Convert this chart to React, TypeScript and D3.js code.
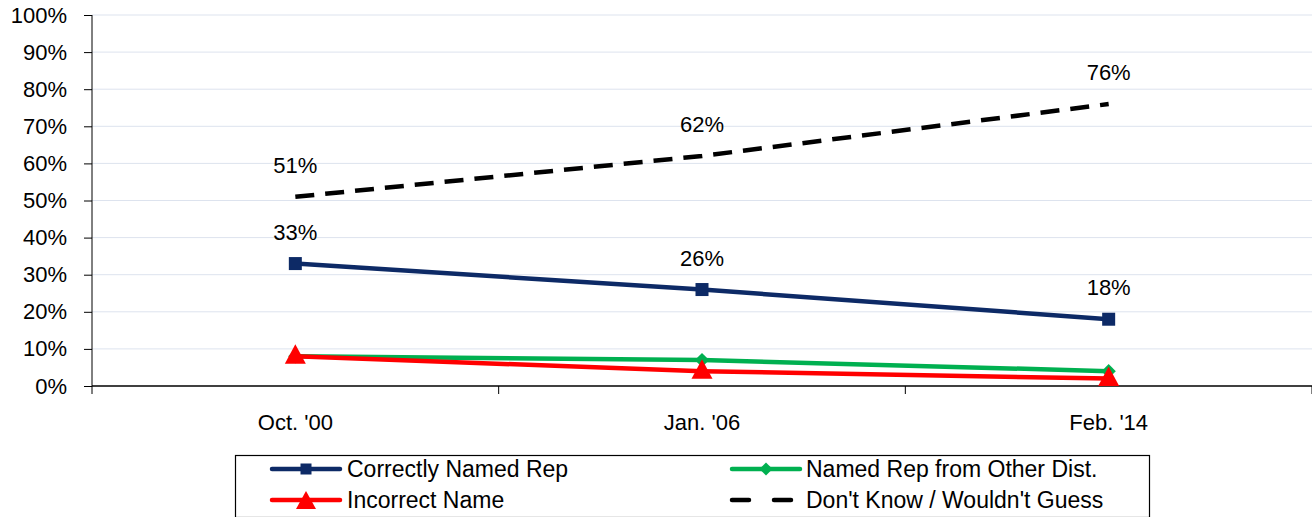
import { useEffect, useRef } from 'react';
import * as d3 from 'd3';

const categories = ["Oct. '00", "Jan. '06", "Feb. '14"];
const correctlyNamed = [33, 26, 18];
const otherDist = [8, 7, 4];
const incorrectName = [8, 4, 2];
const dontKnow = [51, 62, 76];
const yTicks = [0, 10, 20, 30, 40, 50, 60, 70, 80, 90, 100];

const FONT = '"Liberation Sans", Arial, sans-serif';

export default function App() {
  const svgRef = useRef<SVGSVGElement>(null);

  const width = 1312;
  const height = 517;
  const margin = { top: 15, right: 0, bottom: 131, left: 92 };
  const innerWidth = width - margin.left - margin.right;
  const innerHeight = height - margin.top - margin.bottom;

  useEffect(() => {
    if (!svgRef.current) return;
    const svg = d3.select(svgRef.current);
    svg.selectAll('*').remove();

    const x = d3.scaleBand<string>().domain(categories).range([0, innerWidth]);
    const y = d3.scaleLinear().domain([0, 100]).range([innerHeight, 0]);
    const cx = (i: number) => (x(categories[i]) as number) + x.bandwidth() / 2;

    const g = svg.append('g').attr('transform', `translate(${margin.left},${margin.top})`);

    // gridlines
    g.selectAll('.grid')
      .data(yTicks.filter((t) => t > 0))
      .join('line')
      .attr('x1', 0)
      .attr('x2', innerWidth)
      .attr('y1', (d) => y(d))
      .attr('y2', (d) => y(d))
      .attr('stroke', '#dde3ee')
      .attr('stroke-width', 1);

    // y axis
    const yAxis = g.append('g').call(
      d3.axisLeft(y).tickValues(yTicks).tickSize(8).tickFormat((d) => `${d}%`)
    );
    yAxis.select('.domain').attr('stroke', '#000').attr('d', `M0,${innerHeight}V0`);
    yAxis.selectAll('line').attr('stroke', '#000');
    yAxis.selectAll('text')
      .attr('font-family', FONT)
      .attr('font-size', 22)
      .attr('fill', '#000')
      .attr('x', -25);

    // x axis
    const xAxis = g.append('g').attr('transform', `translate(0,${innerHeight})`);
    xAxis.append('line').attr('x1', 0).attr('x2', innerWidth).attr('stroke', '#000').attr('stroke-width', 1.5);
    const bounds = [0, ...categories.map((c) => (x(c) as number) + x.bandwidth())];
    xAxis.selectAll('.xt')
      .data(bounds)
      .join('line')
      .attr('x1', (d) => d)
      .attr('x2', (d) => d)
      .attr('y1', 0)
      .attr('y2', 8)
      .attr('stroke', '#000');
    xAxis.selectAll('.xl')
      .data(categories)
      .join('text')
      .attr('x', (_, i) => cx(i))
      .attr('y', 44)
      .attr('text-anchor', 'middle')
      .attr('font-family', FONT)
      .attr('font-size', 22)
      .text((d) => d);

    const line = d3.line<number>().x((_, i) => cx(i)).y((d) => y(d));

    // series (drawn back to front)
    g.append('path')
      .attr('d', line(dontKnow))
      .attr('fill', 'none')
      .attr('stroke', '#000')
      .attr('stroke-width', 4.5)
      .attr('stroke-dasharray', '19,11');

    g.append('path')
      .attr('d', line(correctlyNamed))
      .attr('fill', 'none')
      .attr('stroke', '#0d2a66')
      .attr('stroke-width', 4.5);
    g.selectAll('.sq')
      .data(correctlyNamed)
      .join('rect')
      .attr('x', (_, i) => cx(i) - 6.5)
      .attr('y', (d) => y(d) - 6.5)
      .attr('width', 13)
      .attr('height', 13)
      .attr('fill', '#0d2a66');

    g.append('path')
      .attr('d', line(otherDist))
      .attr('fill', 'none')
      .attr('stroke', '#00b050')
      .attr('stroke-width', 4.5);
    g.selectAll('.dm')
      .data(otherDist)
      .join('path')
      .attr('d', d3.symbol().type(d3.symbolDiamond2).size(130)())
      .attr('transform', (d, i) => `translate(${cx(i)},${y(d)})`)
      .attr('fill', '#00b050');

    g.append('path')
      .attr('d', line(incorrectName))
      .attr('fill', 'none')
      .attr('stroke', '#ff0000')
      .attr('stroke-width', 4.5);
    g.selectAll('.tr')
      .data(incorrectName)
      .join('path')
      .attr('d', 'M0,-12L10.5,7.5L-10.5,7.5Z')
      .attr('transform', (d, i) => `translate(${cx(i)},${y(d)})`)
      .attr('fill', '#ff0000');

    // data labels
    const labelSeries = [correctlyNamed, dontKnow];
    labelSeries.forEach((series) => {
      g.selectAll(null)
        .data(series)
        .join('text')
        .attr('x', (_, i) => cx(i))
        .attr('y', (d) => y(d) - 24)
        .attr('text-anchor', 'middle')
        .attr('font-family', FONT)
        .attr('font-size', 22)
        .text((d) => `${d}%`);
    });

    // legend
    const lg = svg.append('g');
    lg.append('rect')
      .attr('x', 235.5)
      .attr('y', 455.5)
      .attr('width', 914)
      .attr('height', 62)
      .attr('fill', '#fff')
      .attr('stroke', '#000')
      .attr('stroke-width', 1.2);

    const items = [
      { name: 'Correctly Named Rep', color: '#0d2a66', marker: 'square', dash: '', x: 272, x2: 340, tx: 347, y: 469 },
      { name: 'Named Rep from Other Dist.', color: '#00b050', marker: 'diamond', dash: '', x: 732, x2: 800, tx: 806, y: 469 },
      { name: 'Incorrect Name', color: '#ff0000', marker: 'triangle', dash: '', x: 272, x2: 340, tx: 347, y: 500 },
      { name: "Don't Know / Wouldn't Guess", color: '#000', marker: '', dash: '17,25', x: 732, x2: 791, tx: 806, y: 500 },
    ];
    items.forEach((it) => {
      lg.append('line')
        .attr('x1', it.x)
        .attr('x2', it.x2)
        .attr('y1', it.y)
        .attr('y2', it.y)
        .attr('stroke', it.color)
        .attr('stroke-width', 4.5)
        .attr('stroke-linecap', 'round')
        .attr('stroke-dasharray', it.dash || null);
      const mx = (it.x + it.x2) / 2;
      if (it.marker === 'square') {
        lg.append('rect').attr('x', mx - 5.5).attr('y', it.y - 5.5).attr('width', 11).attr('height', 11).attr('fill', it.color);
      } else if (it.marker === 'diamond') {
        lg.append('path').attr('d', d3.symbol().type(d3.symbolDiamond2).size(110)()).attr('transform', `translate(${mx},${it.y})`).attr('fill', it.color);
      } else if (it.marker === 'triangle') {
        lg.append('path').attr('d', 'M0,-11L10,7L-10,7Z').attr('transform', `translate(${mx},${it.y + 2})`).attr('fill', it.color);
      }
      lg.append('text')
        .attr('x', it.tx)
        .attr('y', it.y + 8)
        .attr('font-family', FONT)
        .attr('font-size', 23)
        .text(it.name);
    });
  }, []);

  return (
    <svg
      ref={svgRef}
      width={width}
      height={height}
      style={{ position: 'absolute', left: 0, top: 0, background: '#fff' }}
    />
  );
}
